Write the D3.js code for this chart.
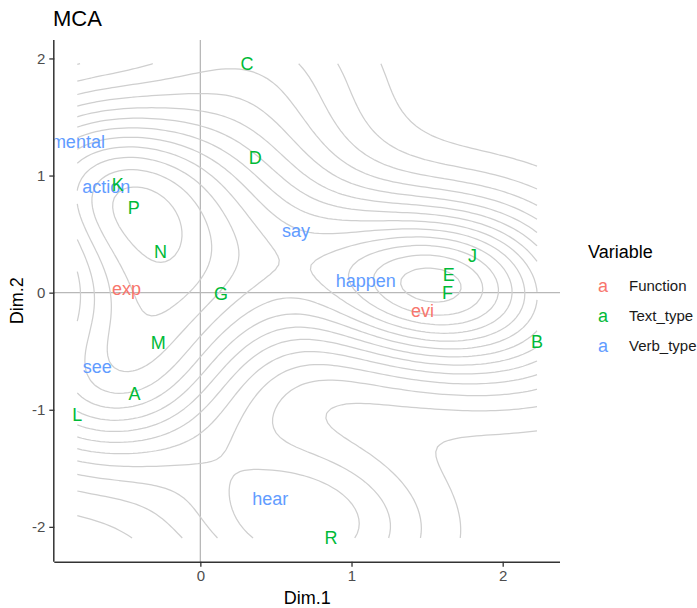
<!DOCTYPE html>
<html><head><meta charset="utf-8">
<script src="https://cdn.jsdelivr.net/npm/d3@7"></script>
<style>body{margin:0;background:#fff} text{font-family:"Liberation Sans",Arial,sans-serif}</style>
</head><body><svg id="c" width="697" height="608"></svg>
<script>
// ---- data ----
const labels   = ["mental","action","say","happen","see","hear","exp","evi","A","B","C","D","E","F","G","J","K","L","M","N","P","R"];
const variable = ["Verb_type","Verb_type","Verb_type","Verb_type","Verb_type","Verb_type","Function","Function",
                  "Text_type","Text_type","Text_type","Text_type","Text_type","Text_type","Text_type","Text_type","Text_type","Text_type","Text_type","Text_type","Text_type","Text_type"];
const dim1 = [-0.81,-0.622,0.632,1.094,-0.682,0.462,-0.488,1.47,-0.436,2.227,0.308,0.363,1.644,1.635,0.137,1.80,-0.546,-0.814,-0.279,-0.264,-0.44,0.865];
const dim2 = [1.292,0.906,0.525,0.099,-0.63,-1.76,0.037,-0.151,-0.859,-0.421,1.955,1.156,0.156,0.0,-0.006,0.312,0.923,-1.046,-0.426,0.346,0.725,-2.095];
const variableLevels = ["Function","Text_type","Verb_type"];
const levelColors = ["#F8766D","#00BA38","#619CFF"];
const xTicks = [0,1,2];
const yTicks = [-2,-1,0,1,2];

// ---- layout ----
const svg = d3.select("#c");
const P = {left:54.3, right:560, top:40, bottom:561.7};
const xExt = d3.extent(dim1), yExt = d3.extent(dim2);
const xp = 0.05*(xExt[1]-xExt[0]), yp = 0.05*(yExt[1]-yExt[0]);
const x = d3.scaleLinear().domain([xExt[0]-xp, xExt[1]+xp]).range([P.left, P.right]);
const y = d3.scaleLinear().domain([yExt[0]-yp, yExt[1]+yp]).range([P.bottom, P.top]);
const color = d3.scaleOrdinal().domain(variableLevels).range(levelColors);

// ---- 2D kernel density (as MASS::kde2d with bandwidth.nrd) ----
function bwNrd(v){
  const q1 = d3.quantile(v,0.25), q3 = d3.quantile(v,0.75);
  const h = (q3-q1)/1.34;
  return 4*1.06*Math.min(d3.deviation(v), h)*Math.pow(v.length,-1/5);
}
const N = 100;
const hx = bwNrd(dim1)/4, hy = bwNrd(dim2)/4;
const sx = (xExt[1]-xExt[0])/(N-1), sy = (yExt[1]-yExt[0])/(N-1);
const phi = t => Math.exp(-0.5*t*t)/Math.sqrt(2*Math.PI);
const W = N+2;
const values = new Array(W*W).fill(-1);
let zmin = Infinity, zmax = -Infinity;
for (let j=0;j<N;j++){
  const gy = yExt[0]+j*sy;
  for (let i=0;i<N;i++){
    const gx = xExt[0]+i*sx;
    let s = 0;
    for (let k=0;k<dim1.length;k++) s += phi((gx-dim1[k])/hx)*phi((gy-dim2[k])/hy);
    s /= dim1.length*hx*hy;
    values[(j+1)*W+(i+1)] = s;
    if (s<zmin) zmin=s; if (s>zmax) zmax=s;
  }
}
// R pretty(range, 10)
function pretty(lo, hi, ndiv){
  const dx = hi-lo; let cell = dx/ndiv;
  const h = 1.5, h5 = 0.5+1.5*h;
  const U = Math.pow(10, Math.floor(Math.log10(cell)));
  let unit = U, ns;
  if ((ns=2*U)-cell < h*(cell-unit)) { unit = ns;
    if ((ns=5*U)-cell < h5*(cell-unit)) { unit = ns;
      if ((ns=10*U)-cell < h*(cell-unit)) unit = ns; } }
  const a = Math.floor(lo/unit+1e-7), b = Math.ceil(hi/unit-1e-7);
  const out = []; for (let k=a;k<=b;k++) out.push(k*unit); return out;
}
const breaks = pretty(zmin, zmax, 10).filter(b => b>zmin && b<zmax);
const contours = d3.contours().size([W,W]).smooth(true).thresholds(breaks)(values);

// turn contour rings into open isolines (drop the parts lying on the padded border)
const toData = ([px,py]) => [xExt[0]+(px-1.5)*sx, yExt[0]+(py-1.5)*sy];
const tx = sx*1e-6, ty = sy*1e-6;
const inside = ([a,b]) => a>=xExt[0]-tx && a<=xExt[1]+tx && b>=yExt[0]-ty && b<=yExt[1]+ty;
const isolines = [];
contours.forEach(c => c.coordinates.forEach(poly => poly.forEach(ring => {
  const pts = ring.slice(0,-1).map(toData);
  const flags = pts.map(inside);
  const firstOut = flags.indexOf(false);
  if (firstOut < 0) { isolines.push([...pts, pts[0]]); return; }
  const n = pts.length; let cur = [];
  for (let k=1;k<=n;k++){
    const idx = (firstOut+k)%n;
    if (flags[idx]) cur.push(pts[idx]);
    else { if (cur.length>1) isolines.push(cur); cur = []; }
  }
  if (cur.length>1) isolines.push(cur);
})));
const line = d3.line().x(p=>x(p[0])).y(p=>y(p[1]));

// reference lines
svg.append("line").attr("x1",x(0)).attr("x2",x(0)).attr("y1",P.top).attr("y2",P.bottom)
  .attr("stroke","#b8b8b8").attr("stroke-width",1.3);
svg.append("line").attr("x1",P.left).attr("x2",P.right).attr("y1",y(0)).attr("y2",y(0))
  .attr("stroke","#b8b8b8").attr("stroke-width",1.3);

svg.append("g").selectAll("path").data(isolines).join("path")
  .attr("d", line).attr("fill","none").attr("stroke","#cfcfcf").attr("stroke-width",1.25);

// labels
svg.append("clipPath").attr("id","pc").append("rect")
  .attr("x",P.left).attr("y",P.top).attr("width",P.right-P.left).attr("height",P.bottom-P.top);
svg.append("g").attr("clip-path","url(#pc)").selectAll("text").data(labels).join("text")
  .attr("x",(d,i)=>x(dim1[i])).attr("y",(d,i)=>y(dim2[i])).attr("dy","0.35em")
  .attr("text-anchor","middle").attr("font-size",18).attr("fill",(d,i)=>color(variable[i])).text(d=>d);

// axes
const xa = svg.append("g").attr("transform",`translate(0,${P.bottom})`)
  .call(d3.axisBottom(x).tickValues(xTicks).tickFormat(d3.format("d")).tickSize(5).tickPadding(4));
const ya = svg.append("g").attr("transform",`translate(${P.left},0)`)
  .call(d3.axisLeft(y).tickValues(yTicks).tickFormat(d=>d<0?"-"+Math.abs(d):d).tickSize(5).tickPadding(4));
[xa,ya].forEach(a=>{
  a.select(".domain").attr("stroke","#333").attr("stroke-width",1.5);
  a.selectAll(".tick line").attr("stroke","#333").attr("stroke-width",1.3);
  a.selectAll(".tick text").attr("fill","#4d4d4d").attr("font-size",15)
    .attr("font-family",'"Liberation Sans",Arial,sans-serif');
});
xa.select(".domain").attr("d",`M${P.left},0.5H${P.right}`);
ya.select(".domain").attr("d",`M-0.5,${P.top}V${P.bottom}`);

svg.append("text").attr("x",(P.left+P.right)/2).attr("y",604).attr("text-anchor","middle")
  .attr("font-size",18).attr("fill","#000").text("Dim.1");
svg.append("text").attr("transform",`translate(23,${(P.top+P.bottom)/2}) rotate(-90)`)
  .attr("text-anchor","middle").attr("font-size",18).attr("fill","#000").text("Dim.2");
svg.append("text").attr("x",53).attr("y",26).attr("font-size",22).attr("fill","#000").text("MCA");

// legend
svg.append("text").attr("x",588).attr("y",258).attr("font-size",18).attr("fill","#000").text("Variable");
const lg = svg.append("g").selectAll("g").data(variableLevels).join("g")
  .attr("transform",(d,i)=>`translate(0,${286+i*30})`);
lg.append("text").attr("x",603).attr("y",0).attr("dy","0.32em").attr("text-anchor","middle")
  .attr("font-size",18).attr("fill",d=>color(d)).text("a");
lg.append("text").attr("x",629).attr("y",0).attr("dy","0.35em").attr("font-size",15)
  .attr("fill","#1a1a1a").text(d=>d);
</script></body></html>
